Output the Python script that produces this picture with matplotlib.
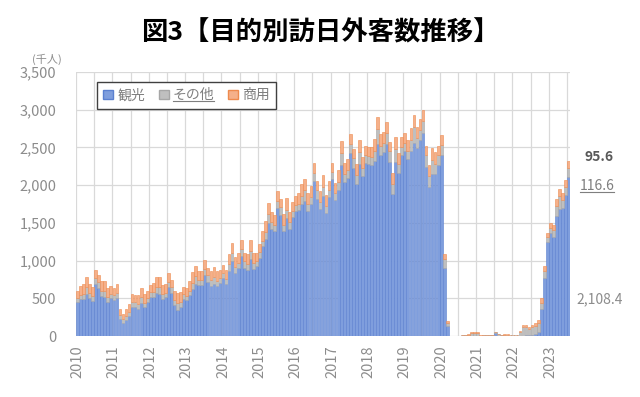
import matplotlib
matplotlib.use('Agg')
import matplotlib.pyplot as plt
from matplotlib.patches import Patch
from matplotlib.lines import Line2D
import numpy as np

plt.rcParams['font.family'] = ['Noto Sans CJK JP', 'DejaVu Sans']

# monthly arrivals by purpose, thousands (Jan 2010 - Jul 2023)
years = list(range(2010, 2024))

tourism = [
    445, 485, 485, 560, 505, 470, 690, 640, 530, 515, 450, 500,          # 2010
    480, 505, 232, 176, 214, 267, 390, 386, 359, 435, 383, 445,          # 2011
    520, 520, 570, 560, 493, 515, 645, 565, 413, 350, 391, 495,          # 2012
    473, 542, 628, 693, 671, 674, 808, 721, 668, 689, 660, 703,          # 2013
    773, 690, 868, 994, 839, 895, 1065, 904, 879, 1027, 894, 927,        # 2014
    1038, 1187, 1286, 1499, 1424, 1386, 1698, 1607, 1388, 1559, 1423, 1579,  # 2015
    1657, 1676, 1755, 1792, 1658, 1755, 2057, 1819, 1678, 1850, 1635, 1840,  # 2016
    2086, 1805, 1930, 2264, 2045, 2101, 2422, 2228, 2020, 2285, 2123, 2296,  # 2017
    2281, 2269, 2318, 2546, 2405, 2440, 2552, 2313, 1884, 2311, 2156, 2393,  # 2018
    2449, 2344, 2450, 2557, 2488, 2600, 2696, 2240, 1977, 2142, 2151, 2265,  # 2019
    2396, 895, 129, 0.3, 0.2, 0.3, 0.2, 0.4, 0.5, 0.6, 1.0, 0.5,        # 2020
    0.5, 0.2, 0.3, 0.2, 0.2, 0.2, 35.0, 0.4, 0.2, 0.3, 0.3, 0.2,         # 2021
    0.3, 0.2, 0.6, 1.5, 7.0, 10.4, 19.5, 32.9, 46.6, 353.6, 771.5, 1248,  # 2022
    1362, 1315, 1592, 1684, 1694, 1863, 2108.4,                          # 2023
]

other = [
    60, 65, 75, 95, 65, 60, 80, 80, 70, 85, 65, 60,
    60, 65, 45, 55, 55, 55, 65, 70, 65, 80, 60, 55,
    60, 60, 75, 95, 65, 60, 75, 80, 65, 85, 65, 60,
    60, 60, 75, 100, 70, 65, 80, 85, 70, 90, 70, 65,
    65, 65, 80, 110, 75, 70, 85, 90, 80, 100, 75, 70,
    70, 70, 90, 125, 85, 80, 95, 100, 90, 115, 85, 80,
    80, 80, 100, 145, 95, 90, 110, 115, 100, 130, 95, 90,
    90, 90, 115, 165, 105, 100, 125, 130, 115, 150, 105, 100,
    100, 100, 130, 200, 120, 115, 140, 145, 130, 170, 120, 115,
    115, 115, 145, 215, 135, 130, 155, 160, 145, 190, 135, 130,
    140, 120, 40, 2.4, 1.3, 2.0, 3.0, 6.8, 10.2, 18.8, 37.7, 39.2,
    34, 6.2, 10.0, 9.2, 8.5, 7.6, 12.0, 22.5, 15.0, 18.3, 16.8, 10.4,
    15.0, 13.5, 53.5, 113, 112, 85, 95, 105, 120, 85, 95, 60,
    75, 85, 130, 175, 115, 115, 116.6,
]

business = [
    95, 115, 130, 125, 120, 120, 110, 95, 125, 130, 125, 100,
    100, 120, 75, 65, 90, 105, 105, 90, 115, 125, 120, 100,
    100, 120, 135, 125, 120, 120, 110, 95, 120, 130, 125, 100,
    105, 125, 140, 130, 125, 125, 115, 100, 125, 140, 130, 105,
    105, 125, 145, 135, 130, 130, 120, 105, 130, 145, 135, 110,
    110, 130, 150, 140, 135, 135, 125, 110, 135, 150, 140, 115,
    115, 135, 155, 145, 140, 140, 130, 115, 140, 155, 145, 120,
    120, 140, 160, 150, 145, 145, 135, 120, 145, 160, 150, 125,
    120, 140, 160, 155, 150, 150, 140, 120, 145, 160, 150, 125,
    125, 145, 165, 155, 150, 150, 140, 120, 150, 165, 155, 130,
    125, 70, 25, 0.2, 0.2, 0.3, 0.6, 1.5, 3.0, 8.0, 18.0, 19.0,
    12, 1.0, 2.0, 1.5, 1.3, 1.5, 4.1, 3.0, 2.5, 3.5, 4.0, 1.5,
    2.5, 3.0, 12, 25, 28, 25, 30, 32, 40, 60, 68, 62,
    60, 75, 95, 90, 90, 95, 95.6,
]

labels = ['観光', 'その他', '商用']
colors = ['#7F9EDD', '#BFBFBF', '#F5B08A']
edges = ['#5B80D0', '#A6A6A6', '#EE8A4E']

t = np.array(tourism)
o = np.array(other)
b = np.array(business)
x = np.arange(len(t))

fig = plt.figure(figsize=(6.4, 3.97), dpi=100)
ax = fig.add_axes([76/640, 1-336/397, 494/640, 264/397])

ax.bar(x, t, width=0.9, color=colors[0], edgecolor=edges[0], linewidth=0.4, zorder=2)
ax.bar(x, o, bottom=t, width=0.9, color=colors[1], edgecolor=edges[1], linewidth=0.4, zorder=2)
ax.bar(x, b, bottom=t+o, width=0.9, color=colors[2], edgecolor=edges[2], linewidth=0.4, zorder=2)

ax.set_xlim(-0.5, len(t) - 0.5)
ax.set_ylim(0, 3500)
ax.set_yticks(range(0, 3501, 500))
ax.set_yticklabels([f'{v:,}' for v in range(0, 3501, 500)])
ax.set_xticks([12*i for i in range(len(years))])
ax.set_xticklabels([str(y) for y in years], rotation=90)
ax.set_xticks(np.arange(-0.5, len(t), 6), minor=True)

ax.yaxis.grid(True, color='#D9D9D9', linewidth=0.9, zorder=0)
ax.xaxis.grid(True, which='minor', color='#D9D9D9', linewidth=0.9, zorder=0)
ax.set_axisbelow(True)
for s in ax.spines.values():
    s.set_visible(False)
ax.tick_params(axis='both', which='both', length=0, colors='#8C8C8C', labelsize=10.5)
ax.tick_params(axis='y', pad=14)
ax.tick_params(axis='x', pad=7)

fig.text(0.5, 1-33/397, '図3【目的別訪日外客数推移】', ha='center', va='center',
         fontsize=19, fontweight='bold', color='black')
fig.text(47/640, 1-59/397, '(千人)', ha='center', va='center', fontsize=8, color='#8C8C8C')

handles = [Patch(facecolor=c, edgecolor=e) for c, e in zip(colors, edges)]
leg = ax.legend(handles, labels, loc='upper left', bbox_to_anchor=(97/640, 1-82/397),
                bbox_transform=fig.transFigure, ncol=3, fancybox=False, framealpha=1,
                edgecolor='#404040', handlelength=0.7, handleheight=0.7, handletextpad=0.3,
                columnspacing=1.0, fontsize=10, borderpad=0.45, borderaxespad=0)
leg.get_frame().set_linewidth(1.0)
for txt in leg.get_texts():
    txt.set_color('#7F7F7F')

# value labels of the last month
fig.text(599/640, 1-157/397, f'{business[-1]:.1f}', ha='center', va='center',
         fontsize=10, fontweight='bold', color='#595959')
lab_o = fig.text(597/640, 1-186/397, f'{other[-1]:.1f}', ha='center', va='center',
                 fontsize=10, color='#7F7F7F')
fig.text(600/640, 1-299/397, f'{tourism[-1]:,.1f}', ha='center', va='center',
         fontsize=10, color='#8C8C8C')


def underline(txt):
    r = fig.canvas.get_renderer()
    bb = txt.get_window_extent(r)
    yy = bb.y0 + 1
    fig.add_artist(Line2D([bb.x0 / fig.bbox.width, bb.x1 / fig.bbox.width],
                          [yy / fig.bbox.height, yy / fig.bbox.height],
                          color=txt.get_color(), linewidth=0.8))


fig.canvas.draw()
underline(lab_o)
underline(leg.get_texts()[1])

plt.savefig('out.png', dpi=100)
